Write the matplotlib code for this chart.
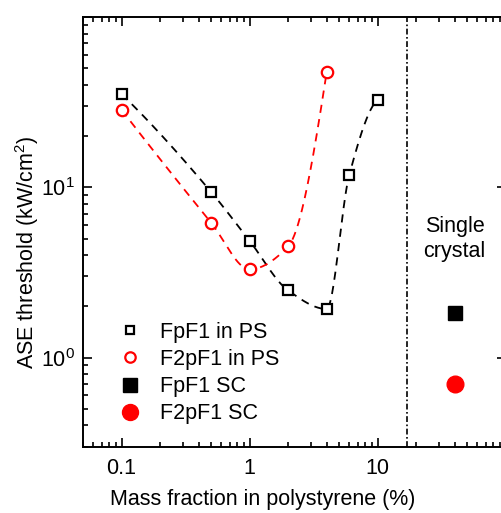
import numpy as np
import matplotlib
matplotlib.use("Agg")
import matplotlib.pyplot as plt
from matplotlib.lines import Line2D
from matplotlib.ticker import FixedLocator, LogLocator, NullFormatter, FixedFormatter

plt.rcParams["font.family"] = ["Liberation Sans", "DejaVu Sans"]
plt.rcParams["mathtext.fontset"] = "custom"
plt.rcParams["mathtext.rm"] = "Liberation Sans"
plt.rcParams["mathtext.it"] = "Liberation Sans:italic"
plt.rcParams["mathtext.bf"] = "Liberation Sans:bold"

# ASE thresholds (kW/cm^2) versus mass fraction in polystyrene (%)
fpf1_frac = [0.1, 0.5, 1, 2, 4, 6, 10]
fpf1_thr = [35.3, 9.4, 4.85, 2.48, 1.93, 11.8, 32.6]

f2pf1_frac = [0.1, 0.5, 1, 2, 4]
f2pf1_thr = [28.5, 6.2, 3.3, 4.5, 47.5]

# single-crystal values, shown in the separate right-hand panel
sc_x = 40
fpf1_sc = 1.84
f2pf1_sc = 0.70

divider_x = 17


def pchip(x, y, n=400):
    """Shape-preserving piecewise cubic Hermite curve through (x, y)."""
    x = np.asarray(x, float)
    y = np.asarray(y, float)
    h = np.diff(x)
    delta = np.diff(y) / h
    m = len(x)
    d = np.zeros(m)
    for i in range(1, m - 1):
        if delta[i - 1] * delta[i] <= 0:
            d[i] = 0.0
        else:
            w1 = 2 * h[i] + h[i - 1]
            w2 = h[i] + 2 * h[i - 1]
            d[i] = (w1 + w2) / (w1 / delta[i - 1] + w2 / delta[i])

    def end_slope(h0, h1, d0, d1):
        s = ((2 * h0 + h1) * d0 - h0 * d1) / (h0 + h1)
        if np.sign(s) != np.sign(d0):
            s = 0.0
        elif np.sign(d0) != np.sign(d1) and abs(s) > abs(3 * d0):
            s = 3 * d0
        return s

    d[0] = end_slope(h[0], h[1], delta[0], delta[1])
    d[-1] = end_slope(h[-1], h[-2], delta[-1], delta[-2])

    xs = np.linspace(x[0], x[-1], n)
    ys = np.empty_like(xs)
    for k, xv in enumerate(xs):
        i = min(np.searchsorted(x, xv, side="right") - 1, m - 2)
        t = (xv - x[i]) / h[i]
        h00 = 2 * t ** 3 - 3 * t ** 2 + 1
        h10 = t ** 3 - 2 * t ** 2 + t
        h01 = -2 * t ** 3 + 3 * t ** 2
        h11 = t ** 3 - t ** 2
        ys[k] = h00 * y[i] + h10 * h[i] * d[i] + h01 * y[i + 1] + h11 * h[i] * d[i + 1]
    return xs, ys


W, H = 501, 513
FS = 15.5
fig = plt.figure(figsize=(W / 100, H / 100), dpi=100)
ax = fig.add_axes([83 / W, 1 - 446.7 / H, (505.7 - 83) / W, (446.7 - 17) / H])
ax.set_xscale("log")
ax.set_yscale("log")
ax.set_xlim(0.05, 100)
ax.set_ylim(0.3, 100)

dash = (0, (4.5, 3.5))
for xs, ys, col in [(fpf1_frac, fpf1_thr, "black"), (f2pf1_frac, f2pf1_thr, "red")]:
    lx, ly = pchip(np.log10(xs), np.log10(ys))
    ax.plot(10 ** lx, 10 ** ly, color=col, lw=1.3, linestyle=dash, zorder=2)

ax.plot(fpf1_frac, fpf1_thr, linestyle="none", marker="s", ms=7.2, mfc="white",
        mec="black", mew=1.6, zorder=3)
ax.plot(f2pf1_frac, f2pf1_thr, linestyle="none", marker="o", ms=8.2, mfc="white",
        mec="red", mew=1.6, zorder=3)
ax.plot([sc_x], [fpf1_sc], linestyle="none", marker="s", ms=10, color="black", zorder=3)
ax.plot([sc_x], [f2pf1_sc], linestyle="none", marker="o", ms=12, color="red", zorder=3)

ax.axvline(divider_x, color="black", lw=1.2, linestyle=(0, (3.5, 1.5, 1, 1.5)), zorder=1)

ax.text(sc_x, 5.0, "Single\ncrystal", ha="center", va="center", fontsize=FS,
        linespacing=1.25)

# axes ticks
ax.xaxis.set_major_locator(FixedLocator([0.1, 1, 10, 100]))
ax.xaxis.set_major_formatter(FixedFormatter(["0.1", "1", "10", ""]))
ax.xaxis.set_minor_locator(LogLocator(base=10, subs=np.arange(2, 10)))
ax.xaxis.set_minor_formatter(NullFormatter())
ax.yaxis.set_major_locator(FixedLocator([1, 10, 100]))
ax.yaxis.set_major_formatter(FixedFormatter([r"$10^0$", r"$10^1$", ""]))
ax.yaxis.set_minor_locator(LogLocator(base=10, subs=np.arange(2, 10)))
ax.yaxis.set_minor_formatter(NullFormatter())
ax.tick_params(which="both", direction="in", top=True, right=True, labelsize=FS,
               width=1.2)
ax.tick_params(which="major", length=6.5)
ax.tick_params(which="minor", length=3.5)
ax.tick_params(axis="x", pad=8)
ax.tick_params(axis="y", pad=6)
for sp in ax.spines.values():
    sp.set_linewidth(1.4)

ax.set_xlabel("Mass fraction in polystyrene (%)", fontsize=FS)
ax.xaxis.set_label_coords((263 - 83) / (505.7 - 83), -0.099)
ax.set_ylabel("ASE threshold (kW/cm$^2$)", fontsize=FS)
ax.yaxis.set_label_coords(-0.099, 0.453)

handles = [
    Line2D([], [], linestyle="none", marker="s", ms=6, mfc="white", mec="black", mew=1.6),
    Line2D([], [], linestyle="none", marker="o", ms=7.5, mfc="white", mec="red", mew=1.6),
    Line2D([], [], linestyle="none", marker="s", ms=9.5, color="black"),
    Line2D([], [], linestyle="none", marker="o", ms=11.5, color="red"),
]
labels = ["FpF1 in PS", "F2pF1 in PS", "FpF1 SC", "F2pF1 SC"]
ax.legend(handles, labels, loc="upper left", bbox_to_anchor=(119 / W, 1 - 322 / H),
          bbox_transform=fig.transFigure, frameon=False, fontsize=FS,
          handlelength=1.0, handletextpad=0.9, labelspacing=0.28, borderpad=0,
          borderaxespad=0)

fig.savefig("out.png", dpi=100)
